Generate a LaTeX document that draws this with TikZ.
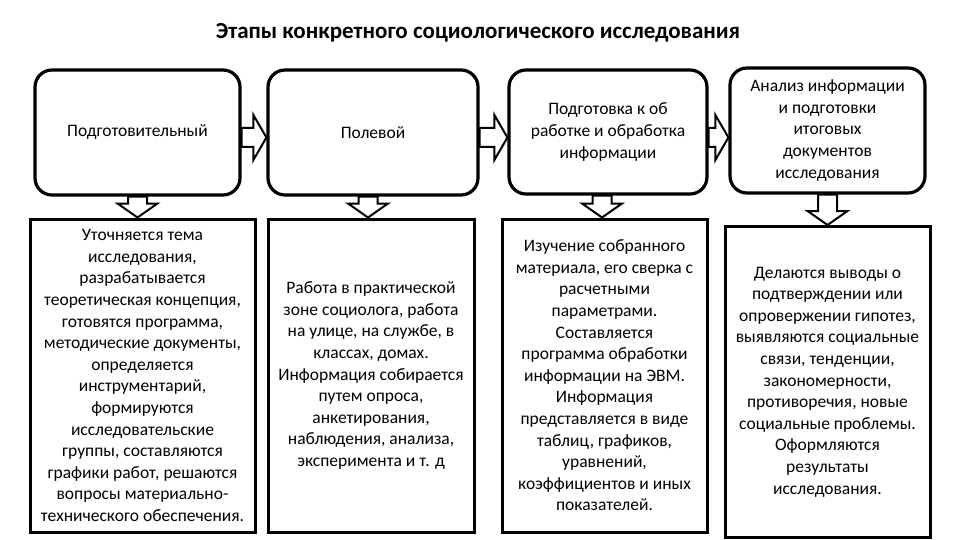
\documentclass[tikz,border=0pt]{standalone}
\usepackage{fontspec}
\setmainfont{Carlito}
\usetikzlibrary{calc}
\tikzset{
  topbox/.style={draw, line width=3.2pt, rounded corners=17pt, align=center, inner sep=0pt,
    font=\fontsize{17.5}{21.6}\selectfont},
  botbox/.style={draw, line width=3pt, align=center, inner sep=0pt,
    font=\fontsize{17.5}{21.6}\selectfont},
  blk/.style={draw, line width=2pt, fill=white, line join=miter},
  ttl/.style={font=\fontsize{23}{27}\selectfont\bfseries}
}
\newcommand\rarr[2]{%
  \draw[blk] (#1.east |- 0,128) -- ($(#2.west |- 0,128)+(-13,0)$) -- ($(#2.west |- 0,115)+(-13,0)$)
    -- (#2.west |- 0,137.5) -- ($(#2.west |- 0,160)+(-13,0)$) -- ($(#2.west |- 0,147)+(-13,0)$)
    -- (#1.east |- 0,147) -- cycle;}
\newcommand\darr[3]{%
  \coordinate (s#1) at (#3,0 |- #1.south);
  \coordinate (n#2) at (#3,0 |- #2.north);
  \draw[blk] ($(s#1)+(-9.5,0)$) -- ($(n#2)+(-9.5,-14)$) -- ($(n#2)+(-20,-14)$) -- (n#2)
    -- ($(n#2)+(20,-14)$) -- ($(n#2)+(9.5,-14)$) -- ($(s#1)+(9.5,0)$) -- cycle;}
\begin{document}
\begin{tikzpicture}[x=1pt,y=-1pt]
\useasboundingbox (0,0) rectangle (960,540);
\fill[white] (0,0) rectangle (960,540);
\node[ttl] (title) at (478,33) {Этапы конкретного социологического исследования};

\node[topbox, minimum width=205pt, minimum height=125pt] (t1) at (137.5,132.5) {Подготовительный};
\node[topbox, minimum width=210pt, minimum height=125pt] (t2) at (373,132.5) {Полевой};
\node[topbox, minimum width=198pt, minimum height=124pt] (t3) at (608,132) {Подготовка к об\\работке и обработка\\информации};
\node[topbox, minimum width=195pt, minimum height=125pt] (t4) at (827.5,130.5) {Анализ информации\\и подготовки\\итоговых\\документов\\исследования};

\node[botbox, minimum width=225pt, minimum height=313pt] (b1) at (142.5,375.5) {Уточняется тема\\исследования,\\разрабатывается\\теоретическая концепция,\\готовятся программа,\\методические документы,\\определяется\\инструментарий,\\формируются\\исследовательские\\группы, составляются\\графики работ, решаются\\вопросы материально-\\технического обеспечения.};
\node[botbox, minimum width=206pt, minimum height=313pt] (b2) at (371,375.5) {Работа в практической\\зоне социолога, работа\\на улице, на службе, в\\классах, домах.\\Информация собирается\\путем опроса,\\анкетирования,\\наблюдения, анализа,\\эксперимента и т. д};
\node[botbox, minimum width=205pt, minimum height=313pt] (b3) at (604.5,375.5) {Изучение собранного\\материала, его сверка с\\расчетными\\параметрами.\\Составляется\\программа обработки\\информации на ЭВМ.\\Информация\\представляется в виде\\таблиц, графиков,\\уравнений,\\коэффициентов и иных\\показателей.};
\node[botbox, minimum width=205pt, minimum height=311pt] (b4) at (827.5,382) {Делаются выводы о\\подтверждении или\\опровержении гипотез,\\выявляются социальные\\связи, тенденции,\\закономерности,\\противоречия, новые\\социальные проблемы.\\Оформляются\\результаты\\исследования.};

\rarr{t1}{t2}
\rarr{t2}{t3}
\rarr{t3}{t4}
\darr{t1}{b1}{137.5}
\darr{t2}{b2}{368}
\darr{t3}{b3}{602}
\darr{t4}{b4}{827.5}
\end{tikzpicture}
\end{document}
